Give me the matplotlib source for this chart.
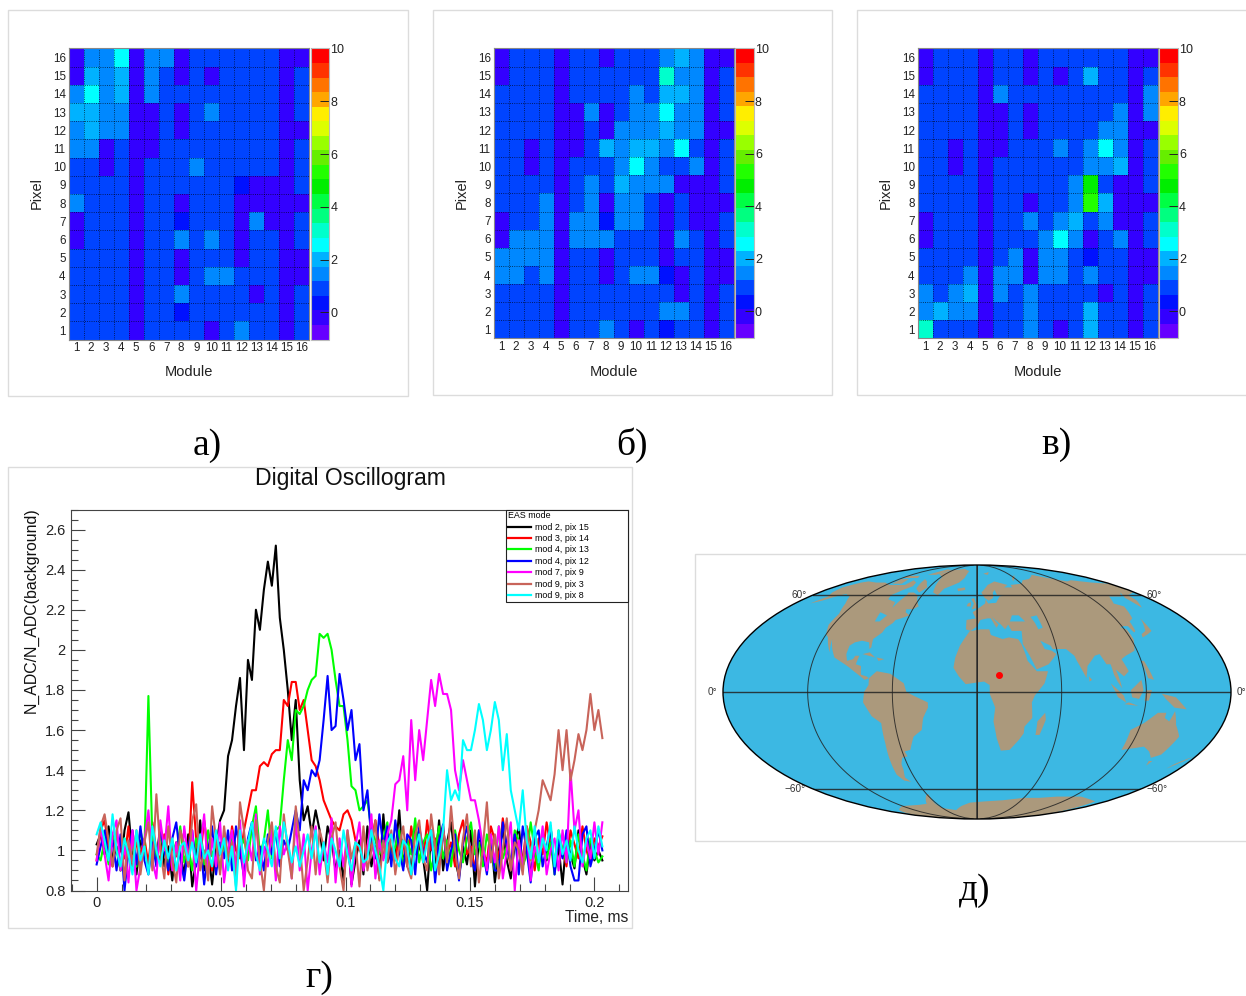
import numpy as np
import matplotlib
matplotlib.use("Agg")
import matplotlib.pyplot as plt
from matplotlib.colors import BoundaryNorm, ListedColormap
from matplotlib.patches import Rectangle
from matplotlib.ticker import FixedFormatter, FixedLocator, MultipleLocator

plt.rcParams["font.family"] = ["Liberation Sans", "DejaVu Sans"]

W, H = 1246, 996

MODULES = list(range(1, 17))
PIXELS = list(range(1, 17))

# colour scale of the ROOT palette, bottom to top
BAND_COLORS = [
    "#6600ff", "#3300ff", "#0011ff", "#0044ff", "#0088ff", "#00b2ff", "#00ffff",
    "#00ffcc", "#00ff80", "#00ff44", "#00ee00", "#22ff00", "#66ee00", "#99ff00",
    "#ddff00", "#ffee00", "#ffa600", "#ff7300", "#ff3300", "#ff0000",
]
BAND_EDGES = np.linspace(-1.03, 10, 21)

# rows listed from pixel 16 down to pixel 1
COUNTS_A = [
    [0, 1.5, 1.5, 2.5, 0, 1.5, 1.5, 0, 1, 1, 1, 1, 1, 1, 0, 0],
    [0, 2, 1.5, 2, 0, 1.5, 1, 0, 1, 0, 1, 1, 1, 1, 0, 1],
    [1.5, 2.5, 1.5, 2, 0, 1.5, 1, 1, 1, 1, 1, 1, 1, 1, 0, 1],
    [2, 2, 1.5, 1.5, 0, 0, 1, 0, 1, 1.5, 1, 1, 1, 1, 0, 1],
    [1.5, 2, 1.5, 1.5, 0, 0, 1, 0, 1, 1, 1, 1, 1, 1, 0, 0],
    [1.5, 1.5, 0, 1, 0, 0, 1, 1, 1, 1, 1, 1, 1, 1, 0, 1],
    [1, 1, 0, 1, 0, 1, 1, 1, 1.5, 1, 1, 1, 1, 1, 0, 1],
    [1, 1, 1, 1, 0, 1, 1, 1, 1, 1, 1, 0.4, 0, 0, 0, 1],
    [1.5, 1, 1, 1, 0, 1, 1, 0, 1, 1, 1, 0, 0, 0, 0, 0],
    [0, 1, 1, 1, 0, 1, 1, 0.4, 1, 1, 1, 0, 1.5, 0, 0, 1],
    [0, 1, 1, 1, 0, 1, 1, 1.5, 1, 1.5, 1, 0, 1, 1, 0, 1],
    [1, 1, 1, 1, 0, 1, 1, 0, 1, 1, 1, 0, 1, 1, 0, 0],
    [1, 1, 1, 1, 0, 1, 1, 0, 1, 1.5, 1.5, 1, 1, 1, 0, 0],
    [1, 1, 1, 1, 0, 1, 1, 1.5, 1, 1, 1, 1, 0, 1, 0, 1],
    [1, 1, 1, 1, 0, 1, 1, 0.4, 1, 1, 1, 1, 1, 1, 0, 1],
    [1, 1, 1, 1, 0, 1, 1, 1, 1, 0, 1, 1.5, 1, 1, 0, 1],
]
COUNTS_B = [
    [0, 1, 1, 1, 0, 1, 1, 0, 1, 1, 1, 1.5, 2, 1.5, 0, 0],
    [0, 1, 1, 1, 0, 1, 1, 1, 1, 1, 1, 3, 1.5, 1.5, 0, 1],
    [1, 1, 1, 1, 0, 1, 1, 1, 1, 1.5, 1, 2, 2, 1.5, 0, 1],
    [1, 1, 1, 1, 0, 0, 1.5, 0, 1, 1.5, 1.5, 2.5, 1.5, 1.5, 0, 1],
    [1, 1, 1, 1, 0, 0, 1, 0, 1.5, 1.5, 1.5, 2, 1.5, 1.5, 0, 0],
    [1, 1, 0, 1, 0, 0, 1, 2, 1.5, 2, 2, 1.5, 2.5, 1, 0, 1],
    [1, 1, 0, 1, 0, 1, 1, 1, 1.5, 2.5, 1.5, 1, 1, 1.5, 0, 1],
    [1, 1, 1, 1, 0, 1, 1.5, 1, 2, 1.5, 1.5, 1.5, 0, 0, 0, 1],
    [1, 1, 1, 1.5, 0, 1, 1.5, 0, 1.5, 1.5, 1, 0, 1, 0, 0, 0],
    [0, 1, 1, 1.5, 0, 1.5, 1.5, 0.4, 1.5, 1.5, 1, 0, 1, 0, 0, 1],
    [0, 1.5, 1.5, 1.5, 0, 1.5, 1.5, 1.5, 1, 1, 1, 0, 1.5, 1, 0, 1],
    [1.5, 1.5, 1.5, 1.5, 0, 1, 1, 0, 1, 1, 1, 0, 1, 1, 0, 0],
    [1.5, 1.5, 1, 1.5, 0, 1, 1, 0, 1, 1.5, 1.5, 0.4, 0, 1, 0, 0],
    [1, 1, 1, 1, 0, 1, 1, 1, 1, 1, 1, 1, 0, 1, 0, 1],
    [1, 1, 1, 1, 0, 1, 1, 1, 1, 1, 1, 1.5, 1.5, 1, 0, 1],
    [1, 1, 1, 1, 0, 1, 1, 1.5, 1, 0, 1, 0.4, 1, 1, 0, 1],
]
COUNTS_C = [
    [0, 1, 1, 1, 0, 1, 1, 0, 1, 1, 1, 1, 1, 1, 0, 0],
    [0, 1, 1, 1, 0, 1, 1, 0, 1, 0, 1, 2, 1, 1, 0, 1],
    [1, 1, 1, 1, 0, 1.5, 1, 1, 1, 1, 1, 1, 1, 1, 0, 1.5],
    [1, 1, 1, 1, 0, 0, 1, 0, 1, 1, 1, 1, 1, 1.5, 0, 1.5],
    [1, 1, 1, 1, 0, 0, 1, 0, 1, 1, 1, 1, 1.5, 1.5, 0, 0],
    [1, 1, 0, 1, 0, 0, 1, 1, 1, 1.5, 1, 1.5, 2.5, 1.5, 0, 1],
    [1, 1, 0, 1, 0, 1, 1, 1, 1, 1, 1, 1.5, 1.5, 2, 0, 1],
    [1, 1, 1, 1, 0, 1, 1, 1, 1, 1, 1.5, 4.8, 1, 0, 0, 1],
    [1, 1, 1, 1, 0, 1, 1, 0, 1, 1, 1.5, 5.3, 2, 0, 0, 0],
    [0, 1, 1, 1, 0, 1, 1, 1.5, 1, 1.5, 2, 1, 1.5, 0, 0, 1],
    [0, 1, 1, 1, 0, 1, 1, 1, 1.5, 2.5, 1.5, 0, 1, 1.5, 0, 1],
    [1, 1, 1, 1, 0, 1, 1.5, 0, 1.5, 1.5, 1, 0.4, 1, 1, 0, 0],
    [1, 1, 1, 1.5, 0, 1.5, 1.5, 0, 1.5, 1.5, 1, 1.5, 1, 1, 0, 0],
    [1.5, 1, 1.5, 2, 0, 1.5, 1, 1.5, 1, 1, 1, 1, 0, 1, 0, 1],
    [1.5, 2, 1.5, 1.5, 0, 1, 1, 1.5, 1, 1, 1, 2, 1, 1, 0, 1],
    [3, 1, 1, 1, 0, 1, 1, 1.5, 1, 0, 1, 2, 1, 1, 0, 1],
]

# oscillogram, one sample every 1.6 us
TIME_STEP = 0.0016
OSC_BLACK = [
    1.03, 1.08, 0.98, 1.12, 0.95, 1.02, 0.90, 1.10, 1.19, 0.97, 0.88, 1.05, 1.00, 0.93, 1.07, 0.96,
    1.12, 0.92, 1.02, 0.85, 1.04, 0.98, 0.88, 1.08, 0.82, 0.95, 1.15, 0.90, 1.00, 0.83, 1.02, 1.15,
    1.20, 1.47, 1.55, 1.72, 1.86, 1.50, 1.95, 1.85, 2.20, 2.10, 2.30, 2.44, 2.32, 2.52, 2.16, 2.00,
    1.80, 1.55, 1.75, 1.35, 1.15, 1.22, 1.08, 1.20, 1.10, 0.95, 1.12, 1.05, 0.90, 1.00, 0.85, 1.08,
    0.83, 0.95, 1.05, 0.88, 1.12, 0.92, 1.02, 0.86, 1.18, 0.94, 1.00, 0.98, 1.20, 0.92, 1.06, 0.88,
    1.12, 1.02, 0.96, 0.80, 1.08, 0.92, 1.15, 0.90, 1.04, 1.14, 0.95, 0.87, 1.02, 0.93, 1.10, 0.82,
    1.05, 0.97, 0.90, 1.08, 0.84, 1.00, 1.10, 0.95, 0.86, 1.03, 1.12, 0.92, 1.05, 0.88, 1.00, 0.93,
    1.08, 0.95, 1.12, 0.90, 1.02, 0.83, 1.06, 0.98, 0.91, 1.10, 0.96, 0.88, 1.04, 0.95, 1.00, 0.95,
]
OSC_RED = [
    0.95, 1.10, 1.15, 1.02, 0.92, 1.08, 1.00, 0.96, 1.12, 0.90, 1.04, 0.98, 1.06, 0.93, 1.14, 1.00,
    0.95, 1.08, 0.88, 1.02, 0.97, 1.10, 1.03, 0.92, 1.34, 1.05, 0.96, 1.15, 1.00, 0.90, 1.08, 0.98,
    1.04, 0.93, 1.12, 1.00, 0.96, 1.10, 1.20, 1.30, 1.30, 1.42, 1.44, 1.42, 1.48, 1.50, 1.50, 1.75,
    1.72, 1.84, 1.84, 1.70, 1.75, 1.60, 1.45, 1.42, 1.35, 1.25, 1.20, 1.15, 1.12, 1.10, 1.18, 1.20,
    1.15, 1.05, 1.00, 1.08, 0.98, 1.05, 1.15, 1.02, 0.96, 1.10, 1.00, 0.95, 1.08, 1.03, 0.92, 1.12,
    0.98, 1.05, 0.94, 1.15, 1.00, 1.06, 0.93, 1.10, 0.98, 1.04, 0.92, 1.08, 1.15, 0.98, 1.02, 0.90,
    1.10, 1.00, 0.94, 1.12, 1.05, 0.96, 1.16, 1.02, 0.92, 1.08, 1.00, 0.95, 1.12, 1.04, 0.90, 1.06,
    0.98, 1.14, 1.02, 0.94, 1.08, 1.00, 0.92, 1.10, 1.03, 0.96, 1.12, 1.00, 0.94, 1.06, 1.02, 1.07,
]
OSC_GREEN = [
    0.98, 0.95, 1.05, 0.93, 1.08, 1.00, 0.90, 1.06, 0.96, 1.02, 0.92, 1.10, 1.00, 1.77, 1.05, 0.96,
    1.08, 1.00, 0.92, 1.05, 0.98, 1.12, 0.94, 1.02, 0.90, 1.06, 1.00, 0.93, 1.10, 0.97, 1.04, 0.90,
    1.05, 0.98, 1.08, 0.92, 1.00, 1.06, 0.95, 1.12, 1.22, 0.98, 1.05, 1.20, 0.96, 1.10, 1.12, 1.35,
    1.55, 1.45, 1.70, 1.68, 1.72, 1.80, 1.85, 1.87, 2.08, 2.06, 2.08, 2.00, 1.85, 1.72, 1.72, 1.55,
    1.32, 1.30, 1.20, 1.22, 1.25, 1.10, 1.05, 0.98, 1.06, 1.14, 0.95, 1.02, 1.10, 0.92, 1.05, 0.98,
    1.16, 0.94, 1.04, 1.08, 0.90, 1.00, 1.12, 0.96, 1.05, 0.92, 1.10, 1.00, 0.94, 1.06, 1.14, 0.98,
    1.04, 0.92, 1.08, 1.00, 0.90, 1.12, 0.96, 1.02, 0.94, 1.10, 1.05, 0.92, 0.98, 1.14, 1.00, 0.90,
    1.08, 0.96, 1.04, 0.88, 1.10, 1.00, 0.94, 1.05, 0.92, 1.08, 0.98, 0.90, 1.06, 1.00, 0.94, 0.97,
]
OSC_BLUE = [
    0.93, 1.02, 1.10, 0.96, 1.05, 0.90, 1.08, 0.80, 1.00, 1.10, 0.93, 1.12, 0.95, 0.88, 1.04, 0.92,
    1.10, 1.00, 0.90, 1.06, 1.14, 0.96, 0.85, 1.02, 1.10, 0.92, 1.05, 0.83, 1.00, 1.12, 0.88, 1.04,
    0.96, 1.10, 0.90, 1.12, 1.00, 0.87, 1.06, 1.14, 0.95, 1.02, 0.90, 1.08, 0.98, 1.10, 0.92, 1.05,
    1.00, 1.10, 1.20, 1.10, 1.35, 1.30, 1.40, 1.37, 1.45, 1.65, 1.87, 1.60, 1.62, 1.88, 1.75, 1.60,
    1.70, 1.45, 1.53, 1.20, 1.30, 1.05, 0.96, 1.18, 1.02, 1.12, 0.92, 1.15, 1.00, 0.90, 1.08, 1.05,
    0.88, 1.12, 1.00, 0.94, 1.10, 0.84, 1.05, 1.13, 0.90, 1.00, 1.08, 0.85, 1.04, 1.12, 0.96, 0.90,
    1.10, 1.00, 0.88, 1.06, 0.90, 0.90, 1.14, 1.02, 0.94, 1.08, 0.88, 1.12, 1.00, 0.84, 1.06, 1.10,
    0.92, 1.02, 1.12, 0.88, 1.05, 0.96, 1.10, 0.92, 0.85, 0.85, 1.08, 1.12, 0.92, 1.00, 1.10, 1.00,
]
OSC_MAGENTA = [
    0.95, 1.12, 0.98, 0.85, 1.08, 1.15, 0.90, 1.02, 0.84, 1.10, 0.80, 0.92, 1.05, 1.20, 0.95, 0.86,
    1.15, 1.00, 1.22, 0.90, 1.04, 0.85, 1.12, 0.96, 1.10, 0.80, 1.00, 1.18, 0.88, 1.06, 0.92, 1.14,
    0.84, 1.00, 1.10, 0.90, 1.15, 0.82, 1.05, 0.95, 1.18, 0.88, 1.02, 0.92, 1.10, 0.85, 1.12, 0.98,
    1.05, 0.86, 1.15, 0.90, 1.08, 0.80, 1.00, 1.12, 0.88, 1.04, 0.94, 1.16, 0.84, 1.06, 0.92, 1.10,
    0.82, 1.02, 1.14, 0.90, 1.00, 1.18, 0.86, 1.05, 0.95, 1.08, 1.15, 1.33, 1.35, 1.47, 1.20, 1.65,
    1.35, 1.60, 1.45, 1.65, 1.85, 1.72, 1.88, 1.78, 1.78, 1.70, 1.40, 1.30, 1.45, 1.35, 1.25, 1.25,
    1.15, 1.02, 0.90, 1.08, 0.94, 1.12, 0.86, 1.00, 1.14, 0.80, 1.05, 0.92, 1.10, 0.85, 1.02, 0.96,
    1.12, 0.88, 1.00, 1.06, 0.90, 1.10, 0.94, 1.40, 1.10, 1.20, 0.92, 1.05, 0.96, 1.14, 0.98, 1.14,
]
OSC_BROWN = [
    0.98, 1.12, 1.18, 1.05, 0.92, 1.10, 1.16, 0.85, 1.05, 0.94, 1.10, 0.88, 1.04, 1.14, 0.90, 1.28,
    1.00, 0.86, 1.12, 0.95, 0.84, 1.10, 1.02, 0.92, 1.15, 1.23, 0.90, 1.00, 0.85, 1.22, 1.05, 0.88,
    1.12, 0.96, 1.04, 0.82, 1.24, 1.10, 0.90, 0.86, 1.15, 0.95, 0.80, 1.05, 1.14, 0.92, 0.84, 1.18,
    1.00, 0.86, 1.22, 1.04, 0.80, 0.95, 1.12, 0.88, 1.10, 1.02, 0.84, 1.06, 1.14, 0.92, 0.80, 1.10,
    0.96, 1.04, 0.82, 1.12, 0.90, 1.00, 1.15, 0.85, 1.05, 0.94, 1.10, 0.88, 1.02, 1.12, 0.92, 0.86,
    1.08, 1.15, 0.96, 0.90, 1.18, 1.02, 0.88, 1.12, 0.94, 1.22, 1.00, 0.86, 1.06, 1.18, 0.92, 1.10,
    0.84, 1.02, 1.24, 0.94, 1.08, 0.86, 1.00, 1.16, 0.90, 1.04, 1.00, 0.88, 1.12, 0.95, 1.10, 1.20,
    1.35, 1.30, 1.25, 1.38, 1.60, 1.40, 1.60, 1.35, 1.45, 1.58, 1.50, 1.60, 1.78, 1.60, 1.70, 1.56,
]
OSC_CYAN = [
    1.08, 1.14, 1.05, 0.95, 1.18, 1.00, 0.92, 1.06, 0.98, 0.88, 1.10, 0.95, 1.02, 0.88, 1.12, 1.00,
    0.92, 1.05, 0.96, 1.06, 0.90, 1.02, 1.04, 0.95, 1.04, 0.94, 1.08, 0.96, 1.00, 0.92, 1.10, 0.98,
    1.06, 0.90, 1.02, 0.80, 1.10, 0.94, 1.04, 1.14, 0.98, 0.90, 1.06, 1.00, 0.92, 1.12, 0.96, 1.14,
    1.04, 0.94, 1.02, 0.92, 1.00, 1.08, 0.96, 1.10, 0.94, 1.04, 0.88, 1.06, 1.00, 0.92, 1.10, 0.98,
    0.90, 1.04, 1.02, 0.94, 0.96, 1.10, 1.00, 0.92, 0.80, 1.04, 1.08, 0.96, 0.92, 1.05, 1.02, 0.88,
    1.00, 1.08, 0.94, 1.04, 1.10, 0.90, 0.98, 1.10, 1.40, 1.25, 1.30, 1.25, 1.55, 1.50, 1.50, 1.60,
    1.73, 1.65, 1.50, 1.60, 1.74, 1.65, 1.40, 1.58, 1.30, 1.20, 1.10, 1.30, 1.05, 0.96, 1.12, 0.94,
    1.06, 1.00, 1.14, 0.92, 1.10, 0.98, 1.05, 0.95, 1.12, 1.00, 0.94, 1.06, 1.10, 0.96, 1.12, 1.02,
]
OSC_SERIES = [OSC_BLACK, OSC_RED, OSC_GREEN, OSC_BLUE, OSC_MAGENTA, OSC_BROWN, OSC_CYAN]
OSC_LABELS = ["mod 2, pix 15", "mod 3, pix 14", "mod 4, pix 13", "mod 4, pix 12",
              "mod 7, pix 9", "mod 9, pix 3", "mod 9, pix 8"]
OSC_COLORS = ["#000000", "#ff0000", "#00ff00", "#0000ff", "#ff00ff", "#c8645a", "#00ffff"]
OSC_YTICKS = [0.8, 1, 1.2, 1.4, 1.6, 1.8, 2, 2.2, 2.4, 2.6]
OSC_XTICKS = [0, 0.05, 0.1, 0.15, 0.2]

# coarse coastlines as (lon, lat) in degrees
LAND = [
    [(-168, 66), (-162, 70), (-156, 71), (-141, 70), (-128, 70), (-115, 68), (-108, 68), (-95, 68),
     (-94, 72), (-85, 70), (-82, 67), (-88, 64), (-94, 60), (-92, 57), (-82, 55), (-80, 51), (-79, 55),
     (-77, 60), (-78, 62), (-72, 62), (-65, 60), (-61, 56), (-56, 52), (-60, 50), (-66, 50), (-65, 48),
     (-60, 46), (-66, 44), (-70, 43), (-71, 41), (-75, 38), (-76, 35), (-81, 31), (-80, 26), (-81, 25),
     (-83, 29), (-89, 30), (-94, 29), (-97, 27), (-97, 22), (-95, 18), (-91, 19), (-90, 21), (-87, 21),
     (-88, 16), (-84, 15), (-83, 10), (-79, 9), (-77, 8), (-80, 7), (-85, 10), (-92, 14), (-96, 16),
     (-105, 20), (-109, 25), (-113, 31), (-110, 23), (-114, 28), (-117, 32), (-120, 34), (-124, 40),
     (-124, 47), (-130, 54), (-137, 59), (-146, 61), (-152, 59), (-158, 56), (-165, 54), (-160, 59),
     (-165, 62)],
    [(-80, 73), (-72, 71), (-62, 66), (-66, 62), (-74, 65), (-78, 70)],
    [(-117, 73), (-105, 73), (-102, 69), (-115, 69)],
    [(-90, 77), (-80, 83), (-62, 82), (-75, 77)],
    [(-122, 76), (-100, 76), (-95, 74), (-120, 74)],
    [(-73, 78), (-60, 82), (-35, 83.5), (-18, 81), (-20, 74), (-25, 70), (-40, 65), (-43, 60), (-50, 62),
     (-54, 68), (-58, 75)],
    [(-77, 8), (-72, 12), (-62, 10.5), (-52, 5), (-50, 0), (-44, -2.5), (-35, -6), (-35, -9), (-39, -15),
     (-41, -22), (-48, -26), (-53, -34), (-58, -35), (-57, -38), (-62, -39), (-65, -43), (-66, -47),
     (-69, -52), (-66, -55), (-72, -54), (-75, -50), (-73, -40), (-71, -30), (-70, -18), (-76, -14),
     (-81, -6), (-80, 0), (-77, 4)],
    [(-6, 35.8), (3, 37), (10, 37), (11, 33.5), (20, 31), (25, 32), (32, 31), (34, 28), (36, 22), (37, 18),
     (43, 12), (51, 12), (48, 5), (41, -2), (39, -6), (40, -15), (35, -20), (35, -24), (32, -28), (26, -34),
     (19, -34.5), (15, -27), (12, -17), (13, -9), (9, -1), (9, 4), (5, 6), (-4, 5), (-8, 4.5), (-13, 9),
     (-17, 14), (-16, 20), (-13, 27), (-10, 31)],
    [(49, -12), (50, -16), (47, -25), (44, -25), (44, -17)],
    [(-9, 37), (-9, 43), (-1, 44), (-4, 48), (2, 51), (8, 54), (9, 57), (11, 54), (19, 54.5), (24, 59),
     (30, 60), (22, 60), (21, 64), (24, 66), (18, 62), (17, 58), (12, 56), (8, 58), (5, 62), (14, 68),
     (25, 71), (40, 68), (34, 66), (44, 66), (44, 68), (60, 69), (68, 72), (80, 73), (100, 77), (113, 74),
     (130, 71), (140, 72), (160, 70), (180, 69), (180, 65), (178, 62), (165, 60), (163, 56), (156, 51),
     (156, 58), (163, 62), (155, 59), (142, 59), (135, 54), (141, 52), (135, 44), (130, 42), (128, 36),
     (126, 35), (125, 39), (121, 39), (118, 38), (122, 37), (122, 31), (118, 24), (110, 21), (106, 19),
     (109, 12), (105, 9), (100, 13), (103, 2), (100, 6), (98, 10), (97, 16), (94, 16), (91, 22), (87, 21),
     (80, 15), (78, 8), (73, 18), (72, 21), (67, 25), (57, 25), (56, 27), (49, 30), (51, 25), (56, 24),
     (59, 22), (52, 16), (43, 13), (39, 21), (35, 28), (36, 36), (28, 36), (26, 40), (23, 37), (20, 40),
     (13, 45), (18, 40), (16, 38), (12, 44), (9, 44), (3, 43), (0, 39), (-5, 36)],
    [(114, -22), (122, -18), (130, -12), (136, -12), (136, -15), (140, -17), (142, -11), (146, -19),
     (153, -26), (150, -37), (144, -39), (138, -35), (131, -32), (124, -33), (115, -34)],
    [(145, -41), (148, -41), (147, -44)],
    [(173, -41), (178, -38), (175, -41), (168, -46), (170, -43)],
    [(131, -1), (141, -3), (150, -10), (141, -9), (134, -4)],
    [(109, 1), (117, 7), (118, 1), (115, -4), (110, -3)],
    [(95, 5), (104, -2), (106, -6), (100, -3)],
    [(105, -7), (115, -8), (108, -6)],
    [(120, 1), (124, 1), (122, -5), (119, -5)],
    [(120, 18), (122, 18), (126, 7), (122, 8)],
    [(130, 32), (136, 34), (141, 36), (142, 44), (140, 41), (136, 36), (131, 34)],
    [(80, 9), (82, 7), (80, 6)],
    [(-5, 50), (1, 51), (-2, 56), (-3, 58), (-6, 57), (-3, 54)],
    [(-10, 52), (-6, 52), (-6, 55), (-9, 54)],
    [(-24, 65), (-15, 66), (-14, 64), (-22, 63)],
    [(-85, 22), (-75, 20), (-80, 23)],
    [(-74, 20), (-68, 19), (-72, 18)],
    [(12, 78), (25, 80), (20, 77)],
    [(52, 71), (68, 77), (56, 74)],
    [(-180, -84), (-150, -78), (-120, -74), (-90, -73), (-75, -72), (-62, -65), (-58, -64), (-62, -72),
     (-60, -76), (-40, -78), (-25, -74), (-10, -71), (10, -70), (35, -69), (60, -67), (80, -67), (100, -66),
     (130, -66), (165, -70), (170, -77), (180, -84), (180, -90), (-180, -90)],
]
WATER = [
    [(28, 42), (31, 46), (37, 46), (41, 42), (35, 42)],
    [(47, 45), (53, 46), (54, 38), (50, 37), (49, 41)],
    [(-88, 48), (-80, 46), (-83, 42), (-87, 42)],
]
MAP_PARALLELS = [-60, 0, 60]
EVENT_LON, EVENT_LAT = 16, 10
MAP_LABELS = [("60°", 799, 595.5), ("60°", 1154, 595.5), ("0°", 712.5, 692), ("0°", 1241.5, 692),
              ("−60°", 795, 789), ("−60°", 1157, 789)]


def px_axes(fig, x0, y0, x1, y1, **kw):
    # pixel box measured from the top left corner of the picture
    return fig.add_axes([x0 / W, 1 - y1 / H, (x1 - x0) / W, (y1 - y0) / H], **kw)


def px_text(fig, x, y, s, **kw):
    fig.text(x / W, 1 - y / H, s, **kw)


def frame(fig, x0, y0, x1, y1):
    fig.add_artist(Rectangle((x0 / W, 1 - y1 / H), (x1 - x0) / W, (y1 - y0) / H,
                             transform=fig.transFigure, fc="none", ec="#dcdcdc", lw=1, zorder=-1))


def heatmap(fig, counts, box, cbar, label_x, label_y):
    cmap = ListedColormap(BAND_COLORS)
    norm = BoundaryNorm(BAND_EDGES, cmap.N)
    ax = px_axes(fig, *box)
    edges = np.arange(0.5, 17)
    mesh = ax.pcolormesh(edges, edges, np.array(counts)[::-1], cmap=cmap, norm=norm)
    ax.set_xlim(0.5, 16.5)
    ax.set_ylim(0.5, 16.5)
    ax.set_xticks(edges, minor=True)
    ax.set_yticks(edges, minor=True)
    ax.grid(which="minor", color="black", lw=0.6, ls=":", alpha=0.8)
    ax.set_xticks(MODULES)
    ax.set_yticks(PIXELS)
    ax.tick_params(which="both", length=0, labelsize=8.4, pad=2, colors="#222222")
    for spine in ax.spines.values():
        spine.set_color("#888888")
        spine.set_linewidth(0.8)
    cax = px_axes(fig, *cbar)
    cb = fig.colorbar(mesh, cax=cax, ticks=[0, 2, 4, 6, 8, 10], spacing="proportional")
    cb.ax.tick_params(direction="in", length=6.5, width=0.7, labelsize=9, pad=1, colors="#222222")
    cb.outline.set_edgecolor("#bbbbbb")
    cb.minorticks_off()
    px_text(fig, label_x, label_y, "Module", ha="center", va="center", fontsize=10.5, color="#222222")
    px_text(fig, box[0] - 32, 193, "Pixel", ha="center", va="center", rotation=90,
            fontsize=10.5, color="#222222")


def oscillogram(fig):
    ax = px_axes(fig, 71, 509.5, 628, 890.5)
    for y, label, color in zip(OSC_SERIES, OSC_LABELS, OSC_COLORS):
        ax.plot(np.arange(len(y)) * TIME_STEP, y, color=color, lw=1.5, label=label)
    ax.set_xlim(-0.0103, 0.2135)
    ax.set_ylim(0.8, 2.7)
    ax.yaxis.set_major_locator(FixedLocator(OSC_YTICKS))
    ax.yaxis.set_major_formatter(FixedFormatter([f"{v:g}" for v in OSC_YTICKS]))
    ax.xaxis.set_major_locator(FixedLocator(OSC_XTICKS))
    ax.xaxis.set_major_formatter(FixedFormatter([f"{v:g}" for v in OSC_XTICKS]))
    ax.yaxis.set_minor_locator(MultipleLocator(0.05))
    ax.xaxis.set_minor_locator(MultipleLocator(0.01))
    ax.tick_params(which="major", direction="in", length=10, width=0.8, labelsize=10.5,
                   color="#444444", labelcolor="#222222", pad=4)
    ax.tick_params(which="minor", direction="in", length=5, width=0.8, color="#444444")
    for spine in ax.spines.values():
        spine.set_color("#444444")
    # box 506..628 px wide, text stays at the left as in the reference
    leg = ax.legend(title="EAS mode", loc="upper left", bbox_to_anchor=(0.781, 0, 0.219, 1), mode="expand",
                    borderaxespad=0, fontsize=6.4, title_fontsize=6.4, alignment="left", frameon=True,
                    framealpha=1, fancybox=False, edgecolor="#222222", labelspacing=0.27, handlelength=2.6,
                    handletextpad=0.5, borderpad=0.2)
    leg.get_frame().set_linewidth(0.8)
    for line in leg.get_lines():
        line.set_linewidth(1.6)
    px_text(fig, 350, 478, "Digital Oscillogram", ha="center", va="center", fontsize=16.6, color="#111111")
    px_text(fig, 31, 610, "N_ADC/N_ADC(background)", ha="center", va="center", rotation=90,
            fontsize=11.4, color="#111111")
    px_text(fig, 628, 917, "Time, ms", ha="right", va="center", fontsize=11.2, color="#222222")


def world_map(fig):
    ax = px_axes(fig, 723, 564.5, 1231, 819.5, projection="mollweide")
    ax.set_facecolor("#3cb8e3")
    for poly in LAND:
        lon, lat = np.radians(np.array(poly)).T
        ax.fill(lon, lat, color="#ab997c", lw=0, zorder=1)
    for poly in WATER:
        lon, lat = np.radians(np.array(poly)).T
        ax.fill(lon, lat, color="#3cb8e3", lw=0, zorder=1)
    ax.set_longitude_grid(60)
    ax.set_longitude_grid_ends(89.5)
    ax.yaxis.set_major_locator(FixedLocator(np.radians(MAP_PARALLELS)))
    ax.xaxis.grid(True, color="#222222", lw=0.7, alpha=0.85)
    ax.yaxis.grid(True, color="#222222", lw=1.0, alpha=0.85)
    ax.set_xticklabels([])
    ax.set_yticklabels([])
    ax.tick_params(length=0)
    ax.plot([0, 0], [-np.pi / 2, np.pi / 2], color="#222222", lw=1.1, alpha=0.85, zorder=2)
    ax.plot(np.radians(EVENT_LON), np.radians(EVENT_LAT), "o", color="#ff0000", ms=4, zorder=3)
    ax.spines["geo"].set_linewidth(1.0)
    ax.spines["geo"].set_color("black")
    for text, x, y in MAP_LABELS:
        px_text(fig, x, y, text, ha="center", va="center", fontsize=7.2, color="#333333")


def main():
    fig = plt.figure(figsize=(W / 100, H / 100), dpi=100, facecolor="white")

    frame(fig, 8, 10, 408, 396)
    frame(fig, 433, 10, 832, 395)
    frame(fig, 857, 10, 1250, 395)
    frame(fig, 8, 467, 632, 928)
    frame(fig, 695, 554, 1250, 841)

    heatmap(fig, COUNTS_A, (68.5, 48.5, 309, 339.5), (311, 48.5, 329, 339.5), 189, 372)
    heatmap(fig, COUNTS_B, (493.5, 48.5, 733.5, 338.5), (735, 48.5, 753.5, 338.5), 613.5, 371.5)
    heatmap(fig, COUNTS_C, (917.5, 48.5, 1157.5, 338.5), (1159, 48.5, 1177.5, 338.5), 1037.5, 371.5)
    oscillogram(fig)
    world_map(fig)

    for s, x, y in [("а)", 207, 446), ("б)", 632, 445), ("в)", 1056, 445), ("г)", 319, 978), ("д)", 975, 891)]:
        px_text(fig, x, y, s, ha="center", va="center", fontsize=27, family=["Liberation Serif", "DejaVu Serif"])

    fig.savefig("out.png", dpi=100)


if __name__ == "__main__":
    main()
